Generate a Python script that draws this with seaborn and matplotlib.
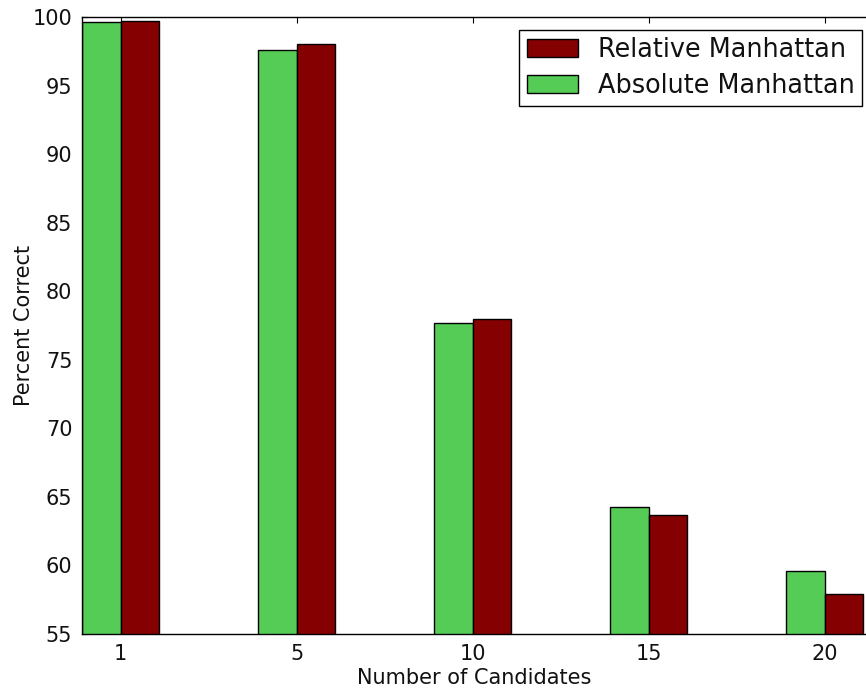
import pandas as pd
import seaborn as sns
import matplotlib.pyplot as plt

candidates = ["1", "5", "10", "15", "20"]
absolute_manhattan = [99.65, 97.6, 77.7, 64.25, 59.6]
relative_manhattan = [99.7, 98.0, 77.95, 63.65, 57.95]

palette = {"Absolute Manhattan": "#55cc55", "Relative Manhattan": "#850000"}

sns.set_style("ticks")
plt.rcParams.update({
    "xtick.direction": "in", "ytick.direction": "in",
    "xtick.top": True, "ytick.right": False,
    "xtick.major.size": 4.5, "ytick.major.size": 4.5,
    "axes.linewidth": 1.0, "axes.edgecolor": "black",
    "text.color": "#111111", "axes.labelcolor": "#111111",
    "xtick.color": "black", "ytick.color": "black",
    "xtick.labelcolor": "#111111", "ytick.labelcolor": "#111111",
})
plt.rcParams["font.family"] = ["DejaVu Sans"]

df = pd.concat([
    pd.DataFrame({"n": candidates, "pct": absolute_manhattan, "method": "Absolute Manhattan"}),
    pd.DataFrame({"n": candidates, "pct": relative_manhattan, "method": "Relative Manhattan"}),
], ignore_index=True)

fig = plt.figure(figsize=(8.66, 6.88), dpi=100)
# axes run slightly past the right edge of the image, as in the original crop
ax = fig.add_axes([82 / 866, 54 / 688, 785 / 866, 617 / 688])

sns.barplot(data=df, x="n", y="pct", hue="method", palette=palette, width=0.44,
            saturation=1, edgecolor="black", linewidth=1, ax=ax)

ax.set_ylim(55, 100)
ax.set_xlim(-0.22, 4.24)
ax.set_xlabel("Number of Candidates", fontsize=15, labelpad=3)
ax.set_ylabel("Percent Correct", fontsize=15, labelpad=-1)
ax.tick_params(labelsize=15, pad=7)

handles, labels = ax.get_legend_handles_labels()
leg = ax.legend(handles[::-1], labels[::-1], loc="upper right",
                bbox_to_anchor=(862 / 866, 1 - 30 / 688), bbox_transform=fig.transFigure,
                borderaxespad=0, fontsize=18.4, frameon=True, fancybox=False,
                edgecolor="black", framealpha=1, borderpad=0.28,
                handlelength=2.0, handletextpad=0.8, labelspacing=0.38)
leg.get_frame().set_linewidth(1.0)

plt.savefig("out.png", dpi=100)
